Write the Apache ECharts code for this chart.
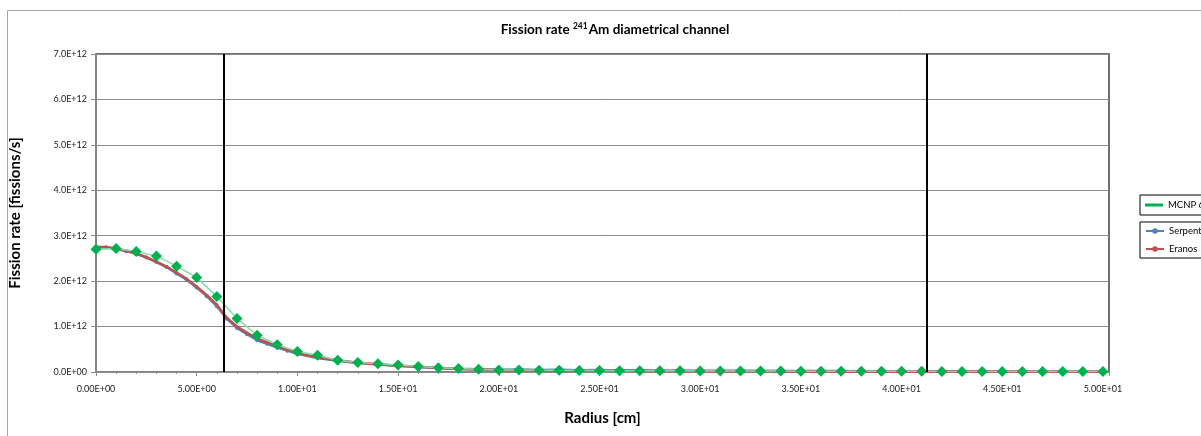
<!DOCTYPE html>
<html>
<head>
<meta charset="utf-8">
<script src="https://cdn.jsdelivr.net/npm/echarts@6/dist/echarts.min.js"></script>
<style>
  html, body { margin: 0; padding: 0; background: #fff; }
  #chart { width: 1201px; height: 436px; }
</style>
</head>
<body>
<div id="chart"></div>
<script>
// radius in cm, rates in units of 1E+12 fissions/s
var radiusMcnp = [0,1,2,3,4,5,6,7,8,9,10,11,12,13,14,15,16,17,18,19,20,
  21,22,23,24,25,26,27,28,29,30,31,32,33,34,35,36,37,38,39,40,
  41,42,43,44,45,46,47,48,49,50];
var rateMcnp = [2.70,2.72,2.65,2.555,2.33,2.08,1.66,1.18,0.81,0.60,0.45,
  0.37,0.26,0.21,0.18,0.155,0.12,0.095,0.075,0.06,0.045,
  0.042,0.038,0.036,0.034,0.032,0.030,0.028,0.026,0.025,0.024,
  0.023,0.022,0.021,0.020,0.019,0.018,0.017,0.016,0.015,0.014,
  0.014,0.013,0.013,0.012,0.012,0.011,0.011,0.010,0.010,0.010];

var radiusCodes = [0,0.5,1,1.5,2,2.5,3,3.5,4,4.5,5,5.5,6,6.5,7,7.5,8,8.5,9,9.5,10,
  11,12,13,14,15,16,17,18,19,20,21,22,23,24,25,26,27,28,29,30,
  31,32,33,34,35,36,37,38,39,40,41,42,43,44,45,46,47,48,49,50];
var rateSerpent = [2.74,2.74,2.71,2.66,2.60,2.52,2.42,2.31,2.17,2.03,1.86,1.67,1.45,1.17,0.97,0.83,0.70,0.62,0.54,0.47,0.40,
  0.31,0.25,0.20,0.165,0.135,0.11,0.088,0.07,0.06,0.05,0.055,0.045,0.048,0.04,0.042,0.035,0.038,0.03,0.034,0.028,
  0.03,0.025,0.027,0.022,0.024,0.02,0.021,0.018,0.019,0.016,0.017,0.015,0.015,0.013,0.013,0.012,0.012,0.011,0.011,0.010];
var rateEranos = [2.75,2.75,2.72,2.67,2.61,2.53,2.43,2.32,2.19,2.05,1.88,1.69,1.48,1.19,1.00,0.86,0.74,0.65,0.57,0.49,0.42,
  0.32,0.26,0.205,0.17,0.14,0.115,0.09,0.068,0.057,0.045,0.04,0.036,0.033,0.03,0.028,0.026,0.024,0.022,0.02,0.019,
  0.018,0.017,0.016,0.015,0.014,0.013,0.012,0.012,0.011,0.011,0.010,0.010,0.009,0.009,0.009,0.008,0.008,0.008,0.008,0.008];

// channel boundaries drawn as vertical lines
var channelEdges = [6.34, 41.25];

var FONT = 'Lato, "Open Sans", sans-serif';

function pairs(xs, ys) {
  return xs.map(function (x, i) { return [x, ys[i]]; });
}

function expLabel(v) {
  var parts = v.toExponential(2).split('e');
  var e = parseInt(parts[1], 10);
  var a = Math.abs(e);
  return parts[0] + 'E' + (e < 0 ? '-' : '+') + (a < 10 ? '0' : '') + a;
}

var chart = echarts.init(document.getElementById('chart'));
chart.setOption({
  animation: false,
  backgroundColor: '#fff',
  graphic: [{
    type: 'rect',
    shape: { x: 7.5, y: 10.5, width: 1205, height: 440 },
    style: { fill: 'none', stroke: '#a6a6a6', lineWidth: 1 },
    silent: true
  }],
  title: {
    text: '{b|Fission rate }{s|241}{b|Am diametrical channel}',
    left: 610,
    textAlign: 'center',
    top: 17,
    textStyle: {
      rich: {
        b: { fontFamily: FONT, fontWeight: 'bold', fontSize: 13.5, color: '#000', lineHeight: 16 },
        s: { fontFamily: FONT, fontWeight: 'bold', fontSize: 8.5, color: '#000', lineHeight: 8, verticalAlign: 'top', padding: [0, 1, 0, 0] }
      }
    }
  },
  legend: [{
    left: 1140,
    top: 195,
    padding: [5, 40, 5, 5],
    borderColor: '#000',
    borderWidth: 1,
    itemWidth: 18,
    itemHeight: 3,
    icon: 'rect',
    data: ['MCNP 6.'],
    textStyle: { fontFamily: FONT, fontSize: 9.5, color: '#000' }
  }, {
    left: 1140,
    top: 222,
    orient: 'vertical',
    padding: [4, 40, 4, 5],
    borderColor: '#000',
    borderWidth: 1,
    itemGap: 8,
    itemWidth: 18,
    itemHeight: 7,
    data: ['Serpent', 'Eranos'],
    textStyle: { fontFamily: FONT, fontSize: 9.5, color: '#000' }
  }],
  grid: {
    left: 96,
    right: 92,
    top: 54,
    bottom: 64,
    show: true,
    borderColor: '#404040',
    borderWidth: 1.5
  },
  xAxis: {
    type: 'value',
    min: 0,
    max: 50.3,
    interval: 5,
    name: 'Radius [cm]',
    nameLocation: 'middle',
    nameGap: 39,
    nameTextStyle: { fontFamily: FONT, fontWeight: 'bold', fontSize: 15, color: '#000' },
    axisLine: { lineStyle: { color: '#8c8c8c', width: 1.5 } },
    axisTick: { length: 4, lineStyle: { color: '#8c8c8c' } },
    minorTick: { show: true, splitNumber: 5, length: 2, lineStyle: { color: '#8c8c8c' } },
    splitLine: { show: false },
    axisLabel: {
      fontFamily: FONT, fontSize: 9, color: '#222', margin: 13,
      showMaxLabel: false, formatter: expLabel
    }
  },
  yAxis: {
    type: 'value',
    min: 0,
    max: 7,
    interval: 1,
    name: 'Fission rate [fissions/s]',
    nameLocation: 'middle',
    nameGap: 73,
    nameTextStyle: { fontFamily: FONT, fontWeight: 'bold', fontSize: 15, color: '#000' },
    axisLine: { show: true, lineStyle: { color: '#8c8c8c', width: 1.5 } },
    axisTick: { show: true, length: 5, lineStyle: { color: '#8c8c8c' } },
    splitLine: { lineStyle: { color: '#8c8c8c', width: 1 } },
    axisLabel: {
      fontFamily: FONT, fontSize: 9, color: '#222', margin: 9,
      formatter: function (v) { return v === 0 ? '0.0E+00' : v.toFixed(1) + 'E+12'; }
    }
  },
  series: [{
    name: 'Serpent',
    type: 'line',
    data: pairs(radiusCodes, rateSerpent),
    symbol: 'circle',
    symbolSize: 4,
    itemStyle: { color: '#4f81bd' },
    lineStyle: { color: '#4f81bd', width: 2.5 },
    z: 2
  }, {
    name: 'Eranos',
    type: 'line',
    data: pairs(radiusCodes, rateEranos),
    symbol: 'circle',
    symbolSize: 3,
    itemStyle: { color: '#c0504d' },
    lineStyle: { color: '#c0504d', width: 2.5 },
    z: 3
  }, {
    name: 'MCNP 6.',
    type: 'line',
    data: pairs(radiusMcnp, rateMcnp),
    symbol: 'diamond',
    symbolSize: 11,
    itemStyle: { color: '#00b050' },
    lineStyle: { color: '#86dca8', width: 1.5 },
    z: 4,
    markLine: {
      silent: true,
      symbol: ['none', 'none'],
      label: { show: false },
      lineStyle: { color: '#000', width: 2, type: 'solid' },
      data: channelEdges.map(function (x) { return { xAxis: x }; })
    }
  }]
});
</script>
</body>
</html>
